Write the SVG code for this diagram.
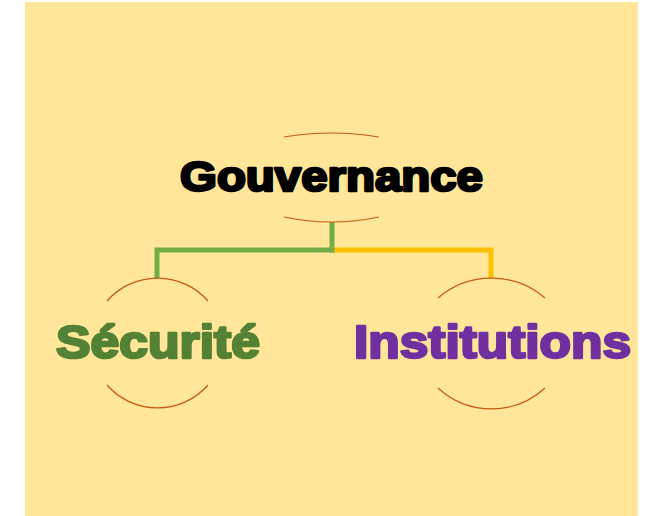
<svg xmlns="http://www.w3.org/2000/svg" width="649" height="516" viewBox="0 0 649 516">
<style>
.arc{fill:none;stroke:#C55A11;stroke-width:1.2}
.t{font-family:"Liberation Sans",Arial,sans-serif;font-weight:bold;text-anchor:start;stroke-linejoin:round;stroke-width:2.6}
.c{fill:none;stroke-width:5}
</style>
<rect x="25" y="2" width="613" height="514" fill="#FFE699"/>
<g id="connectors">
<polyline class="c" stroke="#70AD47" points="332,222 332,250 157,250 157,278"/>
<polyline class="c" stroke="#FFC000" points="332,250 491,250 491,278"/>
<line x1="329.5" y1="250" x2="334.5" y2="250" stroke="#70AD47" stroke-width="5"/>
</g>
<g id="gouvernance">
<path class="arc" d="M284,137 Q331.5,129 379,137"/>
<path class="arc" d="M284,217 Q331.5,227 379,217"/>
<text class="t" x="180" y="191" font-size="42" fill="#000" stroke="#000" textLength="303" lengthAdjust="spacingAndGlyphs">Gouvernance</text>
</g>
<g id="securite">
<path class="arc" d="M107,301 A67,67 0 0 1 208,301"/>
<path class="arc" d="M107,385 A67,67 0 0 0 208,385"/>
<text class="t" x="56" y="358" font-size="46" fill="#548235" stroke="#548235" textLength="204" lengthAdjust="spacingAndGlyphs">Sécurité</text>
</g>
<g id="institutions">
<path class="arc" d="M438,298 A82,82 0 0 1 545,298"/>
<path class="arc" d="M438,388 A79,79 0 0 0 545,388"/>
<text class="t" x="354" y="358" font-size="46" fill="#7030A0" stroke="#7030A0" textLength="277" lengthAdjust="spacingAndGlyphs">Institutions</text>
</g>
</svg>
